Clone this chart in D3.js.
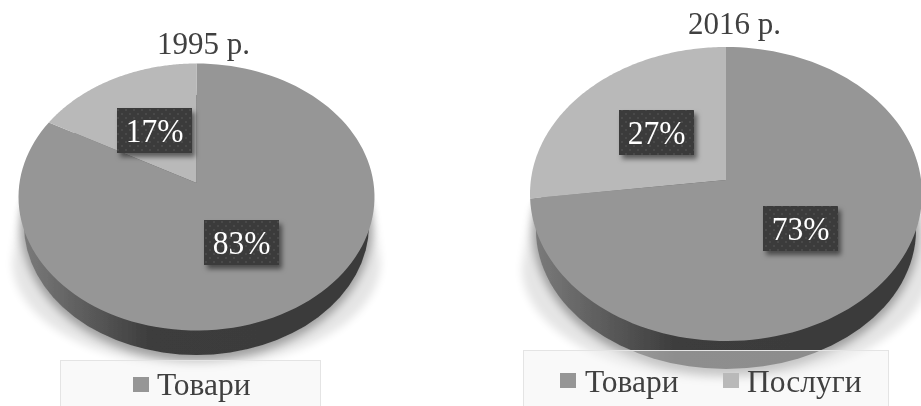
<!DOCTYPE html>
<html><head><meta charset="utf-8">
<script src="https://cdn.jsdelivr.net/npm/d3@7"></script>
<style>html,body{margin:0;padding:0;background:#fff}svg{display:block}text{font-family:"Liberation Serif",serif}</style>
</head><body><svg id="c" width="921" height="406"></svg>
<script>
const categories = ["Товари", "Послуги"];
const values1995 = [83, 17];
const values2016 = [73, 27];
const titles = ["1995 р.", "2016 р."];
const colors = ["#969696", "#b9b9b9"];

const svg = d3.select("#c");
const defs = svg.append("defs");
const soft = defs.append("filter").attr("id","soft").attr("x","-5%").attr("y","-5%").attr("width","110%").attr("height","110%");
soft.append("feGaussianBlur").attr("stdDeviation",0.45);
const blur = defs.append("filter").attr("id","shadow").attr("x","-20%").attr("y","-20%").attr("width","140%").attr("height","140%");
blur.append("feGaussianBlur").attr("stdDeviation",4);
const ds = defs.append("filter").attr("id","labelShadow").attr("x","-20%").attr("y","-20%").attr("width","150%").attr("height","150%");
ds.append("feDropShadow").attr("dx",3).attr("dy",4).attr("stdDeviation",2.8).attr("flood-color","#000").attr("flood-opacity",0.5);
const wallGrad = defs.append("linearGradient").attr("id","wall");
[[0,"#7a7a7a"],[0.37,"#3c3c3c"],[1,"#3a3a3a"]].forEach(s=>wallGrad.append("stop").attr("offset",s[0]).attr("stop-color",s[1]));
const pat = defs.append("pattern").attr("id","dots").attr("width",8).attr("height",8).attr("patternUnits","userSpaceOnUse");
pat.append("rect").attr("width",8).attr("height",8).attr("fill","#3b3b3b");
pat.append("circle").attr("cx",2).attr("cy",2).attr("r",1).attr("fill","#4c4c4c");
pat.append("circle").attr("cx",6).attr("cy",6).attr("r",1).attr("fill","#4c4c4c");

const layouts = [
 {values:values1995,title:titles[0],titleX:203.5,titleY:54,cx:196.5,cy:197,rx:178,ry:133.5,p:0.105,
  bx:196.5,by:225,brx:172.5,bry:130,
  shadow:{cx:196.5,cy:262,rx:184,ry:104,top:205},
  labels:[{x:204,y:220},{x:117,y:108}],
  legend:{x:60.5,y:360.5,w:260,h:50,items:[{sx:133,sy:377,tx:157,ty:395,i:0}]}},
 {values:values2016,title:titles[1],titleX:734.5,titleY:34,cx:726,cy:194,rx:196,ry:147,p:0.095,
  bx:726,by:230,brx:190,bry:139,
  shadow:{cx:726,cy:268,rx:204,ry:112,top:205},
  labels:[{x:763,y:206},{x:619,y:110}],
  legend:{x:523.5,y:350.5,w:365,h:60,items:[{sx:560,sy:373,tx:585,ty:392,i:0},{sx:723,sy:373,tx:747,ty:392,i:1}]}}
];

const root = svg.append("g").attr("filter","url(#soft)");
const pieGen = d3.pie().sort(null);

layouts.forEach(L=>{
  const sx = d3.scaleLinear().domain([-1,1]).range([L.cx-L.rx,L.cx+L.rx]);
  const sy = d3.scaleLinear().domain([-1,1]).range([L.cy+L.ry,L.cy-L.ry]);
  const project = a=>{
    const X=Math.sin(a),Y=Math.cos(a),d=1+L.p*Y;
    return [sx(X*Math.sqrt(1-L.p*L.p)/d), sy((Y+L.p)/d)];
  };
  const apex=[sx(0),sy(L.p)];
  const line=d3.line();

  // flared ground shadow: top-face extremes widening into a lower half ellipse
  const S=L.shadow;
  const lower=d3.range(0,61).map(k=>{
    const t=Math.PI*k/60;
    return [S.cx+S.rx*Math.cos(t), S.cy+S.ry*Math.sin(t)];
  });
  root.append("path").attr("d",line([[L.cx+L.rx-2,S.top],...lower,[L.cx-L.rx+2,S.top]])+"Z")
    .attr("fill","#000").attr("opacity",0.1).attr("filter","url(#shadow)");
  // tighter, darker shadow hugging the wall
  root.append("ellipse").attr("cx",L.bx).attr("cy",L.by+3).attr("rx",L.brx+3).attr("ry",L.bry+3)
    .attr("fill","#000").attr("opacity",0.3).attr("filter","url(#shadow)");
  // side wall
  root.append("ellipse").attr("cx",L.bx).attr("cy",L.by).attr("rx",L.brx).attr("ry",L.bry).attr("fill","url(#wall)");
  // top-face slices
  pieGen(L.values).forEach((d,i)=>{
    const steps=d3.range(0,121).map(k=>project(d.startAngle+(d.endAngle-d.startAngle)*k/120));
    root.append("path").attr("d",line([apex,...steps])+"Z").attr("fill",colors[i]);
  });
  // data labels
  pieGen(L.values).forEach((d,i)=>{
    const b=L.labels[i];
    root.append("rect").attr("x",b.x).attr("y",b.y).attr("width",75).attr("height",45)
      .attr("fill","url(#dots)").attr("filter","url(#labelShadow)");
    root.append("text").attr("transform",`translate(${b.x+37.5},${b.y+34}) scale(1,1.04)`).attr("text-anchor","middle")
      .attr("font-size",31.5).attr("fill","#fff").text(d.value+"%");
  });
  // title
  root.append("text").attr("x",L.titleX).attr("y",L.titleY).attr("text-anchor","middle")
    .attr("font-size",31).attr("fill","#404040").text(L.title);
  // legend
  const lg=L.legend;
  root.append("rect").attr("x",lg.x).attr("y",lg.y).attr("width",lg.w).attr("height",lg.h)
    .attr("fill","#f2f2f2").attr("fill-opacity",0.45).attr("stroke","#e4e4e4");
  lg.items.forEach(it=>{
    root.append("rect").attr("x",it.sx).attr("y",it.sy).attr("width",16).attr("height",15).attr("fill",colors[it.i]);
    root.append("text").attr("x",it.tx).attr("y",it.ty).attr("font-size",31.5).attr("fill","#404040").text(categories[it.i]);
  });
});
</script></body></html>
